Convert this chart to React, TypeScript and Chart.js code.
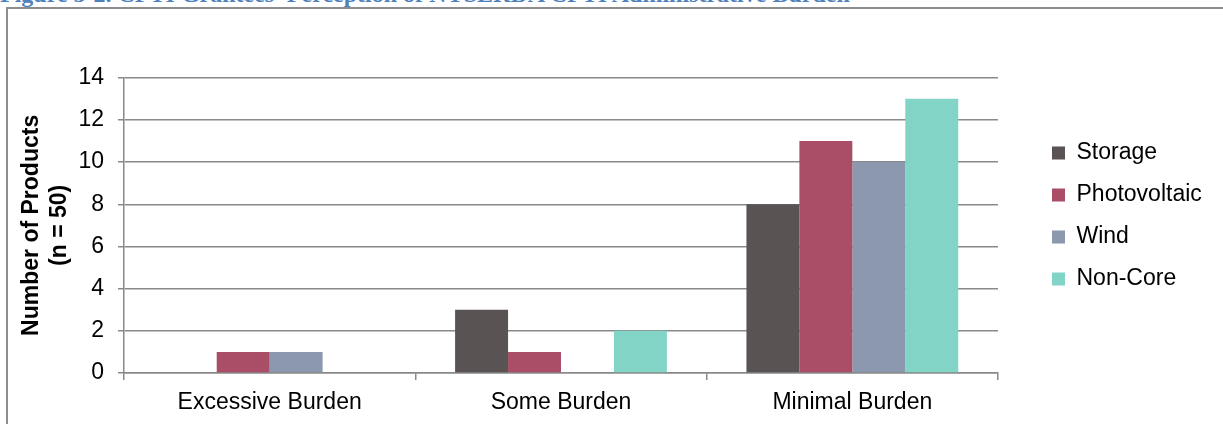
import React, { useEffect, useRef } from "react";
import { Chart, registerables } from "chart.js";

Chart.register(...registerables);

const categories = ["Excessive Burden", "Some Burden", "Minimal Burden"];
const storage = [0, 3, 8];
const photovoltaic = [1, 1, 11];
const wind = [1, 0, 10];
const nonCore = [0, 2, 13];
const seriesNames = ["Storage", "Photovoltaic", "Wind", "Non-Core"];
const seriesColors = ["#5A5353", "#A94E66", "#8C98AE", "#82D4C7"];
const yTitle = ["Number of Products", "(n = 50)"];
const figureTitle =
  "Figure 5-2. CPTI Grantees' Perception of NYSERDA CPTI Administrative Burden";

const GRID = "#898989";
const FONT = 'Arial, "Liberation Sans", sans-serif';
const FS = 23;
const LEGEND_PAD = 19;
const BOX = 13;

export default function App() {
  const ref = useRef<HTMLCanvasElement | null>(null);

  useEffect(() => {
    if (!ref.current) return;
    const ctx = ref.current.getContext("2d")!;
    ctx.font = `${FS}px ${FONT}`;
    const maxText = Math.max(...seriesNames.map((n) => ctx.measureText(n).width));
    const legendWidth = LEGEND_PAD + BOX + FS / 2 + maxText;
    const legendLeft = 1052 - LEGEND_PAD;
    const rightPad = Math.max(0, 1223 - legendLeft - legendWidth - 10);

    const values = [storage, photovoltaic, wind, nonCore];
    const chart = new Chart(ref.current, {
      type: "bar",
      data: {
        labels: categories,
        datasets: seriesNames.map((name, i) => ({
          label: name,
          data: values[i],
          backgroundColor: seriesColors[i],
          borderWidth: 0,
          categoryPercentage: 0.727,
          barPercentage: 1,
          yAxisID: "y",
        })),
      },
      options: {
        responsive: false,
        animation: false,
        devicePixelRatio: 1,
        layout: { padding: { top: 8, bottom: 0, left: 0, right: rightPad } },
        plugins: {
          title: {
            display: true,
            text: "",
            padding: { top: 68.7, bottom: 0 },
            font: { size: 1, lineHeight: 1 },
          },
          legend: {
            position: "right",
            labels: {
              boxWidth: BOX,
              boxHeight: BOX,
              padding: LEGEND_PAD,
              color: "#000",
              font: { family: FONT, size: FS, lineHeight: 1.2 },
            },
          },
          tooltip: { enabled: false },
        },
        scales: {
          x: {
            grid: {
              display: true,
              offset: true,
              drawOnChartArea: false,
              drawTicks: true,
              tickLength: 7,
              color: GRID,
              lineWidth: 1.5,
            },
            border: { display: true, color: GRID, width: 1.5 },
            ticks: {
              color: "#000",
              padding: 9.2,
              font: { family: FONT, size: FS, lineHeight: 1.2 },
            },
            afterFit: (s: any) => {
              s.height = 51;
            },
          },
          y: {
            min: 0,
            max: 14,
            position: "left",
            grid: {
              color: GRID,
              lineWidth: 1.5,
              tickLength: 6,
            },
            border: { display: true, color: GRID, width: 1.5 },
            ticks: {
              stepSize: 2,
              color: "#000",
              padding: 14,
              font: { family: FONT, size: FS, lineHeight: 1.2 },
            },
            title: {
              display: true,
              text: yTitle,
              color: "#000",
              padding: { top: 18, bottom: 0 },
              font: { family: FONT, size: FS, weight: "bold", lineHeight: 28 / FS },
            },
            afterFit: (s: any) => {
              s.width = 124;
            },
          },
          spacer: {
            type: "linear",
            position: "right",
            display: true,
            grid: { display: false, drawTicks: false },
            border: { display: false },
            ticks: { display: false },
            afterFit: (s: any) => {
              s.width = legendLeft - 998;
            },
          },
        },
      } as any,
    });
    return () => chart.destroy();
  }, []);

  return (
    <div
      style={{
        position: "absolute",
        left: 0,
        top: 0,
        width: 1223,
        height: 424,
        overflow: "hidden",
        background: "#fff",
      }}
    >
      <div
        style={{
          position: "absolute",
          left: 0,
          top: -17.6,
          whiteSpace: "nowrap",
          fontFamily: '"Times New Roman", "Liberation Serif", serif',
          fontWeight: "bold",
          fontSize: 24,
          lineHeight: "24px",
          color: "#4F81BD",
        }}
      >
        {figureTitle}
      </div>
      <div
        style={{
          position: "absolute",
          left: 6,
          top: 7,
          width: 1400,
          height: 600,
          borderLeft: "2px solid #8d8d8d",
          borderTop: "2px solid #8d8d8d",
        }}
      />
      <canvas
        ref={ref}
        width={1223}
        height={424}
        style={{ position: "absolute", left: 0, top: 0, width: 1223, height: 424 }}
      />
    </div>
  );
}
